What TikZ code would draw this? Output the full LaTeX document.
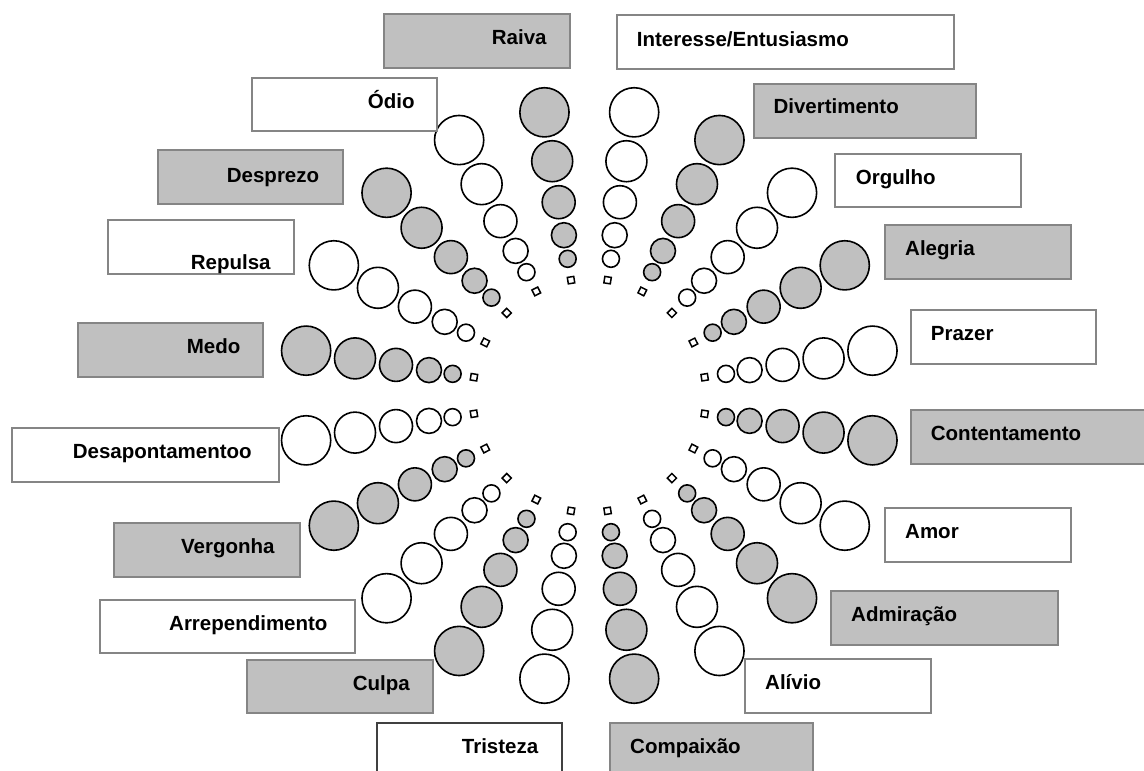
\documentclass[tikz,border=0pt]{standalone}
\usepackage{fontspec}
\setmainfont{Liberation Sans}
\definecolor{wgrey}{HTML}{C0C0C0}
\definecolor{bgrey}{HTML}{858585}
\definecolor{dgrey}{HTML}{404040}
\begin{document}
\begin{tikzpicture}[x=1pt,y=-1pt,
  box/.style={draw=bgrey, line width=1.8pt, inner sep=0pt, anchor=north west},
  lbl/.style={anchor=base west, inner sep=0pt, font=\fontsize{20.5}{24}\selectfont\bfseries},
  ring/.style={draw=black, line width=1.6pt},
  tip/.style={draw=black, fill=white, line width=1.5pt}]
\useasboundingbox (0,0) rectangle (1144,771);
\clip (0,0) rectangle (1144,771);
\def\cx{589.3}\def\cy{395.5}
% spokes
\foreach \a/\f in {81/white,63/wgrey,45/white,27/wgrey,9/white,-9/wgrey,-27/white,-45/wgrey,-63/white,-81/wgrey,
                   -99/white,-117/wgrey,-135/white,-153/wgrey,-171/white,171/wgrey,153/white,135/wgrey,117/white,99/wgrey}{
  \foreach \d/\r in {138.4/8.5,162.3/12.5,195.7/16.5,237.2/20.5,286.7/24.6}{
    \draw[ring, fill=\f] ({\cx+\d*cos(\a)},{\cy-\d*sin(\a)}) circle[radius=\r];
  }
  \draw[tip] ({\cx+116.8*cos(\a)+4.6*cos(\a+45)},{\cy-116.8*sin(\a)-4.6*sin(\a+45)})
    -- ({\cx+116.8*cos(\a)+4.6*cos(\a+135)},{\cy-116.8*sin(\a)-4.6*sin(\a+135)})
    -- ({\cx+116.8*cos(\a)+4.6*cos(\a+225)},{\cy-116.8*sin(\a)-4.6*sin(\a+225)})
    -- ({\cx+116.8*cos(\a)+4.6*cos(\a+315)},{\cy-116.8*sin(\a)-4.6*sin(\a+315)}) -- cycle;
}
% label boxes: name / x1 / y1 / x2 / y2 / fill / border / text x / baseline / text
\foreach \n/\xa/\ya/\xb/\yb/\f/\b/\tx/\ty/\t in {
  raiva/383.3/13.3/569/66.7/wgrey/bgrey/491.7/45/Raiva,
  interesse/615.7/14.3/953/67.7/white/bgrey/636.7/46.7/Interesse\slash Entusiasmo,
  odio/251/76.7/436/130/white/bgrey/367.7/108.3/Ódio,
  divertimento/752.7/83.3/975.3/136.7/wgrey/bgrey/773.3/113.3/Divertimento,
  desprezo/156.7/149.3/342.3/203.3/wgrey/bgrey/226.7/182/Desprezo,
  orgulho/834.3/152.7/1020/206/white/bgrey/855.7/184/Orgulho,
  repulsa/107.3/219/293.3/272.7/white/bgrey/190.7/269/Repulsa,
  alegria/884/224/1070/278.3/wgrey/bgrey/905/255/Alegria,
  prazer/910/309.3/1095.3/362.7/white/bgrey/930.7/340.7/Prazer,
  medo/76.7/322.3/262/376/wgrey/bgrey/186.7/353.3/Medo,
  contentamento/910/409/1160/462.7/wgrey/bgrey/930.7/440.7/Contentamento,
  desapontamento/10.7/427.3/278.3/481/white/bgrey/72.7/458.3/Desapontamentoo,
  amor/884/507.3/1069.7/561/white/bgrey/905/538.7/Amor,
  vergonha/113.3/522.3/298.7/576/wgrey/bgrey/181/553.3/Vergonha,
  admiracao/830/590/1057/644/wgrey/bgrey/851/621/Admiração,
  arrependimento/98.7/598.7/354/652/white/bgrey/169/630/Arrependimento,
  alivio/744.3/658.3/929.7/711.7/white/bgrey/765/689.3/Alívio,
  culpa/246/659/431.7/712.3/wgrey/bgrey/352.7/690/Culpa,
  tristeza/376/721.7/561/790/white/dgrey/461.7/753.3/Tristeza,
  compaixao/608.7/721.7/812.3/790/wgrey/bgrey/630/753.3/Compaixão}{
  \node[box, fill=\f, draw=\b, minimum width={(\xb-\xa)*1pt}, minimum height={(\yb-\ya)*1pt}] (\n) at (\xa,\ya) {};
  \node[lbl] (\n-t) at (\tx,\ty) {\t};
}
\end{tikzpicture}
\end{document}
